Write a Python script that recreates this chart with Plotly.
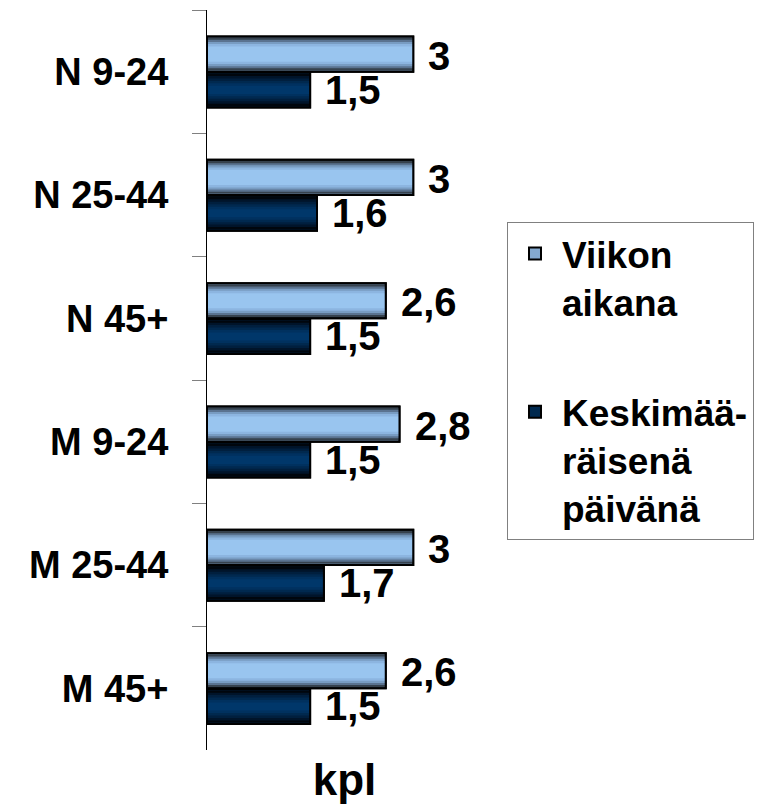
import plotly.graph_objects as go

categories = ["N 9-24", "N 25-44", "N 45+", "M 9-24", "M 25-44", "M 45+"]
viikon_aikana = [3.0, 3.0, 2.6, 2.8, 3.0, 2.6]
keskimaarainen = [1.5, 1.6, 1.5, 1.5, 1.7, 1.5]
series_names = ["Viikon<br>aikana", "Keskimää-<br>räisenä<br>päivänä"]
value_labels_1 = ["3", "3", "2,6", "2,8", "3", "2,6"]
value_labels_2 = ["1,5", "1,6", "1,5", "1,5", "1,7", "1,5"]

FONT = "Liberation Sans, Arial, sans-serif"
W = 0.285  # bar thickness in category units

# gradient layers (edge -> center)
light_layers = [(1.0, "#36424e"), (0.88, "#5a7390"), (0.76, "#789cc2"),
                (0.64, "#8cb5e0"), (0.50, "#99c5ef")]
dark_layers = [(1.0, "#00060d"), (0.86, "#00142a"), (0.72, "#001f3e"),
               (0.58, "#00294f"), (0.44, "#00315f"), (0.30, "#00376a")]

fig = go.Figure()

def add_series(values, name, mid_color, layers, offset, group):
    # legend-bearing base
    fig.add_trace(go.Bar(
        y=categories, x=values, orientation="h", name=name,
        marker=dict(color=mid_color, line=dict(color="black", width=2)),
        offset=offset, width=W, legendgroup=group, hoverinfo="x+y"))
    for frac, col in layers:
        w = W * frac - 0.02
        fig.add_trace(go.Bar(
            y=categories, x=values, orientation="h", showlegend=False,
            marker=dict(color=col, line=dict(width=0)),
            offset=offset + (W - w) / 2, width=w, hoverinfo="skip",
            legendgroup=group))
    # outline on top
    fig.add_trace(go.Bar(
        y=categories, x=values, orientation="h", showlegend=False,
        marker=dict(color="rgba(0,0,0,0)", line=dict(color="black", width=2)),
        offset=offset, width=W, hoverinfo="skip", legendgroup=group))

add_series(viikon_aikana, series_names[0], "#84a9cf", light_layers, -W, "a")
add_series(keskimaarainen, series_names[1], "#00294f", dark_layers, 0.005, "b")

annotations = []
for cat, v, t in zip(categories, viikon_aikana, value_labels_1):
    annotations.append(dict(x=v, y=cat, text=t, xanchor="left", yanchor="middle",
                            xshift=13, yshift=16, showarrow=False,
                            font=dict(family=FONT, size=40, color="black", weight="bold")))
for cat, v, t in zip(categories, keskimaarainen, value_labels_2):
    annotations.append(dict(x=v, y=cat, text=t, xanchor="left", yanchor="middle",
                            xshift=13, yshift=-18, showarrow=False,
                            font=dict(family=FONT, size=40, color="black", weight="bold")))

fig.update_layout(
    width=754, height=797,
    margin=dict(l=199, r=280, t=2, b=55, autoexpand=False),
    barmode="overlay",
    plot_bgcolor="white", paper_bgcolor="white",
    font=dict(family=FONT, color="black"),
    showlegend=True,
    legend=dict(
        x=300 / 275, y=(742 - 214) / 740, xanchor="left", yanchor="top",
        bgcolor="white", bordercolor="#808080", borderwidth=1,
        font=dict(family=FONT, size=37, color="black", weight="bold"),
        tracegroupgap=59, valign="top", traceorder="grouped", itemwidth=44),
    annotations=annotations,
)
fig.update_xaxes(range=[0, 4], showgrid=False, zeroline=False, showline=False,
                 showticklabels=False, ticks="", automargin=False,
                 title=dict(text="kpl", standoff=14,
                            font=dict(family=FONT, size=44, color="black", weight="bold")))
fig.update_yaxes(categoryorder="array", categoryarray=categories, autorange="reversed",
                 showline=True, linecolor="black", linewidth=1, showgrid=False,
                 ticks="outside", tickson="boundaries", ticklen=14, tickcolor="#808080",
                 ticklabelstandoff=30, automargin=False,
                 tickfont=dict(family=FONT, size=38, color="black", weight="bold"))

fig.write_html("out.html")
